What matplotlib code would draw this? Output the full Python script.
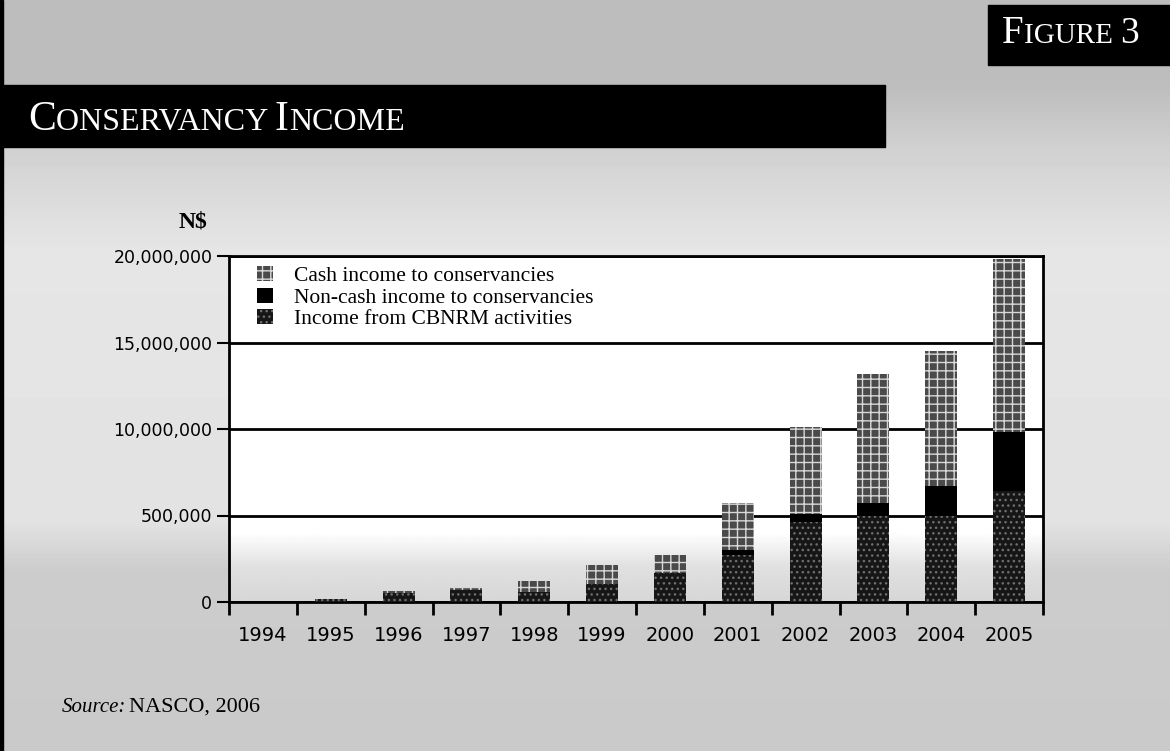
import matplotlib.pyplot as plt
import numpy as np
from matplotlib.patches import Rectangle

# Data (N$)
years = ['1994', '1995', '1996', '1997', '1998', '1999', '2000',
         '2001', '2002', '2003', '2004', '2005']
cbnrm_income = [0, 180000, 500000, 700000, 590000, 1020000, 1700000,
                2700000, 4600000, 5000000, 5000000, 6400000]
noncash_income = [0, 0, 0, 0, 0, 0, 0,
                  300000, 500000, 750000, 1700000, 3400000]
cash_income = [0, 0, 130000, 160000, 610000, 1120000, 1000000,
               2700000, 5000000, 7450000, 7800000, 10000000]
series_labels = ['Cash income to conservancies',
                 'Non-cash income to conservancies',
                 'Income from CBNRM activities']
y_ticks = [0, 5000000, 10000000, 15000000, 20000000]
y_ticklabels = ['0', '500,000', '10,000,000', '15,000,000', '20,000,000']

W, H = 1170, 751
fig = plt.figure(figsize=(W / 100, H / 100), dpi=100)
fig.patch.set_facecolor('#cccccc')

# page background: grey halftone, lighter around the plot
bg = fig.add_axes([0, 0, 1, 1], zorder=-10)
rows = np.arange(H)
shade = np.interp(rows, [0, 85, 150, 200, 250, 520, 570, 751],
                  [0.74, 0.74, 0.82, 0.86, 0.90, 0.89, 0.80, 0.79])
bg.imshow(shade[:, None], cmap='gray', vmin=0, vmax=1, aspect='auto',
          extent=[0, 1, 0, 1])
bg.set_axis_off()

# left page border
fig.add_artist(Rectangle((0, 0), 2.5 / W, 1, transform=fig.transFigure,
                         color='black', zorder=5))

# title bar and figure box
fig.add_artist(Rectangle((0, 1 - 147 / H), 885 / W, 62 / H,
                         transform=fig.transFigure, color='black', zorder=1))
fig.add_artist(Rectangle((988 / W, 1 - 65 / H), (W - 988) / W, 60 / H,
                         transform=fig.transFigure, color='black', zorder=1))

renderer = fig.canvas.get_renderer()


def small_caps(x_px, y_px, pieces, family='Liberation Serif', color='white'):
    # pieces: list of (text, size) drawn one after another on one baseline
    x = x_px / W
    for s, size in pieces:
        t = fig.text(x, 1 - y_px / H, s, fontsize=size, family=family,
                     color=color, va='baseline', ha='left', zorder=6)
        bb = t.get_window_extent(renderer)
        x = bb.x1 / W


small_caps(28, 130, [('C', 30), ('ONSERVANCY ', 23), ('I', 30), ('NCOME', 23)])
small_caps(1002, 43, [('F', 28), ('IGURE ', 21), ('3', 27)])

# main chart
ax = fig.add_axes([229 / W, 1 - 602 / H, (1043 - 229) / W, (602 - 256) / H])
ax.set_facecolor('white')

grad = np.interp(np.linspace(0, 1, 400), [0, 0.1, 0.2, 1],
                 [0.84, 0.88, 1.0, 1.0])[::-1]
ax.imshow(grad[:, None], cmap='gray', vmin=0, vmax=1, aspect='auto',
          extent=[0, 1, 0, 1], transform=ax.transAxes, zorder=0)

x = np.arange(len(years))
bw = 0.47
cb = np.array(cbnrm_income)
nc = np.array(noncash_income)
ca = np.array(cash_income)

b3 = ax.bar(x, cb, bw, color='#161616', edgecolor='#6e6e6e', hatch='...',
            linewidth=0, zorder=3)
b2 = ax.bar(x, nc, bw, bottom=cb, color='black', linewidth=0, zorder=3)
b1 = ax.bar(x, ca, bw, bottom=cb + nc, color='#4a4a4a', edgecolor='#d8d8d8',
            hatch='++', linewidth=0, zorder=3)

ax.set_xlim(-0.5, len(years) - 0.5)
ax.set_ylim(0, 20000000)

ax.set_yticks(y_ticks)
ax.set_yticklabels(y_ticklabels, fontsize=12.5, family='DejaVu Sans')
ax.tick_params(axis='y', length=9, width=1.5, pad=3, color='black')

ax.set_xticks(x)
ax.set_xticklabels(years, fontsize=14, family='DejaVu Sans')
ax.set_xticks(np.arange(-0.5, len(years), 1), minor=True)
ax.tick_params(axis='x', which='major', length=0, pad=17)
ax.tick_params(axis='x', which='minor', length=9, width=2, direction='out')

ax.yaxis.grid(True, color='black', linewidth=2, zorder=1)
ax.set_axisbelow(True)
for side in ['left', 'right', 'top', 'bottom']:
    ax.spines[side].set_linewidth(2)
    ax.spines[side].set_color('black')

ax.legend([b1, b2, b3], series_labels, loc='upper left',
          bbox_to_anchor=(0.035, 0.97), frameon=False,
          prop={'family': 'Liberation Serif', 'size': 15.5},
          handlelength=0.7, handleheight=0.7, labelspacing=0.05,
          handletextpad=1.0, borderaxespad=0, borderpad=0)

fig.text(193 / W, 1 - 222 / H, 'N$', fontsize=17, fontweight='bold',
         family='Liberation Serif', ha='center', va='center')

t = fig.text(62 / W, 1 - 712 / H, 'Source:', fontsize=15, style='italic',
             family='Liberation Serif', va='baseline')
bb = t.get_window_extent(renderer)
fig.text(bb.x1 / W + 3 / W, 1 - 712 / H, 'NASCO, 2006', fontsize=16,
         family='Liberation Serif', va='baseline')

fig.savefig('out.png', dpi=100, facecolor=fig.get_facecolor())
